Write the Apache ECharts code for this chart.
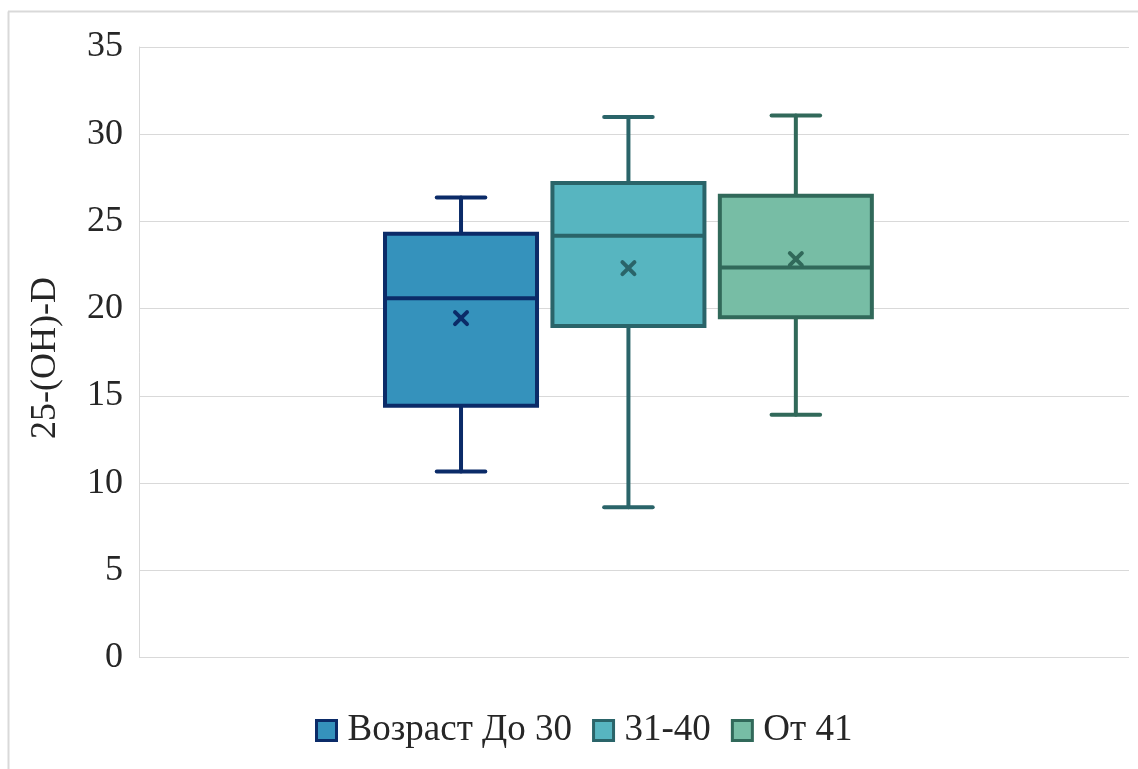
<!DOCTYPE html>
<html>
<head>
<meta charset="utf-8">
<title>25-(OH)-D</title>
<script src="https://cdn.jsdelivr.net/npm/echarts@6/dist/echarts.min.js"></script>
<style>
  html, body { margin: 0; padding: 0; background: #ffffff; }
  #chart { width: 1138px; height: 769px; }
</style>
</head>
<body>
<div id="chart"></div>
<script>
// Age groups (series names shown in the legend)
const groupNames = ['Возраст До 30', '31-40', 'От 41'];
// Five-number summaries per group: [min, Q1, median, Q3, max]
const groupStats = [
  [10.66, 14.43, 20.60, 24.29, 26.37],
  [8.61, 19.01, 24.18, 27.20, 30.99],
  [13.91, 19.51, 22.36, 26.47, 31.08]
];
// Group means (drawn as × markers)
const groupMeans = [19.46, 22.32, 22.84];
// Y axis ticks
const yTicks = { min: 0, max: 35, interval: 5 };
const yAxisTitle = '25-(OH)-D';

// Styling
const fills = ['#3592BC', '#57B5C0', '#77BDA5'];
const borders = ['#0B2B68', '#2A6469', '#31695A'];
const FONT = '"Liberation Serif", "Times New Roman", serif';
const FONT_SIZE = 36;
const LEGEND_FONT_SIZE = 37;

const chart = echarts.init(document.getElementById('chart'), null, { renderer: 'canvas' });

// One box-and-whisker glyph with a mean cross, placed through the axes' scales
function renderBox(params, api) {
  const x = api.value(0);
  const lo = api.value(1), q1 = api.value(2), med = api.value(3), q3 = api.value(4), hi = api.value(5), mean = api.value(6);
  const unit = api.size([1, 0])[0];
  const half = unit * 0.454;
  const capHalf = unit * 0.145;
  const pLo = api.coord([x, lo]);
  const pQ1 = api.coord([x, q1]);
  const pMed = api.coord([x, med]);
  const pQ3 = api.coord([x, q3]);
  const pHi = api.coord([x, hi]);
  const pMean = api.coord([x, mean]);
  const cx = pLo[0];
  const i = params.seriesIndex;
  const stroke = borders[i];
  const lw = 4;
  const lineStyle = { stroke: stroke, lineWidth: lw, lineCap: 'round' };
  const m = 6;
  return {
    type: 'group',
    children: [
      { type: 'line', shape: { x1: cx, y1: pHi[1], x2: cx, y2: pQ3[1] }, style: lineStyle },
      { type: 'line', shape: { x1: cx, y1: pQ1[1], x2: cx, y2: pLo[1] }, style: lineStyle },
      { type: 'line', shape: { x1: cx - capHalf, y1: pHi[1], x2: cx + capHalf, y2: pHi[1] }, style: lineStyle },
      { type: 'line', shape: { x1: cx - capHalf, y1: pLo[1], x2: cx + capHalf, y2: pLo[1] }, style: lineStyle },
      {
        type: 'rect',
        shape: { x: cx - half, y: pQ3[1], width: half * 2, height: pQ1[1] - pQ3[1] },
        style: { fill: fills[i], stroke: stroke, lineWidth: lw }
      },
      { type: 'line', shape: { x1: cx - half, y1: pMed[1], x2: cx + half, y2: pMed[1] }, style: { stroke: stroke, lineWidth: lw } },
      { type: 'line', shape: { x1: cx - m, y1: pMean[1] - m, x2: cx + m, y2: pMean[1] + m }, style: lineStyle },
      { type: 'line', shape: { x1: cx - m, y1: pMean[1] + m, x2: cx + m, y2: pMean[1] - m }, style: lineStyle }
    ]
  };
}

const series = groupNames.map(function (name, i) {
  return {
    name: name,
    type: 'custom',
    renderItem: renderBox,
    itemStyle: { color: fills[i], borderColor: borders[i] },
    encode: { x: 0, y: [1, 2, 3, 4, 5, 6] },
    data: [[i].concat(groupStats[i], [groupMeans[i]])]
  };
});

const option = {
  backgroundColor: '#ffffff',
  animation: false,
  textStyle: { fontFamily: FONT },
  grid: { left: 139, right: 9, top: 47, bottom: 111.5, containLabel: false },
  xAxis: {
    type: 'value',
    min: -1.9235,
    max: 3.99,
    show: false
  },
  yAxis: {
    type: 'value',
    min: yTicks.min,
    max: yTicks.max,
    interval: yTicks.interval,
    axisLine: { show: true, onZero: false, lineStyle: { color: '#D9D9D9', width: 1 } },
    axisTick: { show: false },
    splitLine: { show: true, lineStyle: { color: '#D9D9D9', width: 1 } },
    axisLabel: { color: '#262626', fontSize: FONT_SIZE, fontFamily: FONT, margin: 16 }
  },
  legend: {
    left: 310,
    top: 707,
    icon: 'rect',
    itemWidth: 20,
    itemHeight: 20,
    itemGap: 20,
    textStyle: { color: '#262626', fontSize: LEGEND_FONT_SIZE, fontFamily: FONT, lineHeight: 37, padding: [0, 0, 0, 6] },
    data: groupNames.map(function (name, i) {
      return { name: name, itemStyle: { color: fills[i], borderColor: borders[i], borderWidth: 3 } };
    })
  },
  graphic: [
    {
      type: 'text',
      x: 46,
      y: 358,
      rotation: Math.PI / 2,
      style: {
        text: yAxisTitle,
        fill: '#262626',
        font: FONT_SIZE + 'px ' + FONT,
        align: 'center',
        verticalAlign: 'middle'
      }
    },
    { type: 'line', shape: { x1: 8.5, y1: 11.5, x2: 8.5, y2: 769 }, style: { stroke: '#D9D9D9', lineWidth: 2 } },
    { type: 'line', shape: { x1: 8, y1: 11.5, x2: 1138, y2: 11.5 }, style: { stroke: '#D9D9D9', lineWidth: 2 } }
  ],
  series: series
};

chart.setOption(option);
</script>
</body>
</html>
